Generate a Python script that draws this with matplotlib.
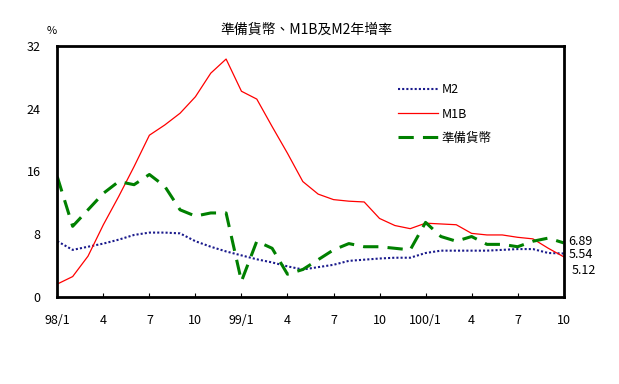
import matplotlib
matplotlib.use("Agg")
import matplotlib.pyplot as plt
import numpy as np

plt.rcParams['font.family'] = ['Noto Sans CJK TC', 'DejaVu Sans']

months = ['98/1', '', '', '4', '', '', '7', '', '', '10', '', '',
          '99/1', '', '', '4', '', '', '7', '', '', '10', '', '',
          '100/1', '', '', '4', '', '', '7', '', '', '10']

m2 = [7.1, 6.0, 6.4, 6.8, 7.3, 7.9, 8.2, 8.2, 8.1, 7.1, 6.4, 5.8,
      5.3, 4.8, 4.4, 3.9, 3.5, 3.8, 4.1, 4.6, 4.75, 4.9, 5.0, 5.0,
      5.6, 5.9, 5.9, 5.9, 5.9, 6.0, 6.1, 6.1, 5.6, 5.54]

m1b = [1.65, 2.6, 5.2, 9.2, 12.8, 16.6, 20.6, 21.9, 23.4, 25.5, 28.5, 30.3,
       26.2, 25.2, 21.7, 18.3, 14.7, 13.1, 12.4, 12.2, 12.1, 10.0, 9.1, 8.7,
       9.4, 9.3, 9.2, 8.1, 7.9, 7.9, 7.6, 7.4, 6.2, 5.12]

reserve = [15.3, 9.0, 11.1, 13.2, 14.7, 14.3, 15.6, 14.1, 11.1, 10.3, 10.7, 10.7,
           2.0, 7.1, 6.2, 2.9, 3.5, 4.75, 6.0, 6.8, 6.4, 6.4, 6.2, 6.0,
           9.5, 7.7, 7.1, 7.7, 6.7, 6.7, 6.4, 7.1, 7.5, 6.89]

x = np.arange(len(months))

fig = plt.figure(figsize=(6.19, 3.84), dpi=100)
ax = fig.add_axes([0.0926, 0.2266, 0.818, 0.6544])

ax.plot(x, m2, color='#1a1a8c', lw=1.5, ls=(0, (1, 1)), label='M2')
ax.plot(x, m1b, color='red', lw=0.9, label='M1B')
ax.plot(x, reserve, color='green', lw=2.2, ls=(0, (5, 3)), label='準備貨幣')

ax.set_xlim(0, len(months) - 1)
ax.set_ylim(0, 32)
ax.set_yticks([0, 8, 16, 24, 32])
ax.set_xticks(x[::3])
ax.set_xticklabels(months[::3])
ax.tick_params(axis='x', direction='in', length=3, pad=12, labelsize=9)
ax.tick_params(axis='y', length=0, pad=12, labelsize=9)
for s in ax.spines.values():
    s.set_linewidth(2)

ax.text(len(months) - 0.7, reserve[-1] + 0.2, '6.89', fontsize=9, va='center')
ax.text(len(months) - 0.7, m2[-1] - 0.1, '5.54', fontsize=9, va='center')
ax.text(len(months) - 0.45, m1b[-1] - 1.7, '5.12', fontsize=9, va='center')

ax.legend(loc='upper left', bbox_to_anchor=(0.65, 0.895), frameon=False,
          fontsize=9, handlelength=3.2, labelspacing=0.9, handletextpad=0.3)

fig.text(0.495, 0.922, '準備貨幣、M1B及M2年增率', ha='center', va='center', fontsize=10)
fig.text(0.083, 0.92, '%', ha='center', va='center', fontsize=8)

fig.savefig('out.png', dpi=100)
